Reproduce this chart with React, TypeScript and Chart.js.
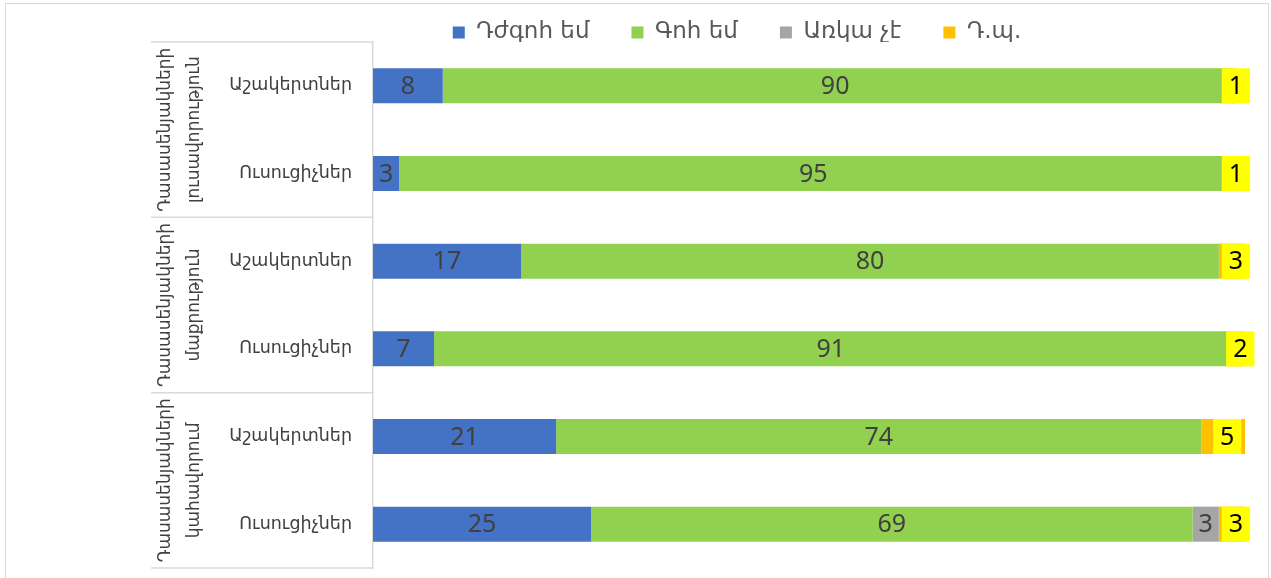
import React, { useEffect, useRef } from "react";
import { Chart, registerables } from "chart.js";

Chart.register(...registerables);

// ---- data ----
const categories = ["Աշակերտներ", "Ուսուցիչներ", "Աշակերտներ", "Ուսուցիչներ", "Աշակերտներ", "Ուսուցիչներ"];
const groupLine1 = ["Դասասենյակների", "Դասասենյակների", "Դասասենյակների"];
const groupLine2 = ["լուսավորություն", "մաքրություն", "կահավորում"];
const groupSizes = [2, 2, 2];

const seriesNames = ["Դժգոհ եմ", "Գոհ եմ", "Առկա չէ", "Դ.պ."];
const dissatisfied = [8, 3, 17, 7, 21, 25];
const satisfied = [90, 95, 80, 91, 74, 69];
const notAvailable = [0, 0, 0, 0, 0, 3];
const noAnswer = [1, 1, 3, 2, 5, 3];
const seriesColors = ["#4472C4", "#92D050", "#A5A5A5", "#FFC000"];

const ARM = '"DejaVu Sans", sans-serif';
const NUM = '"Noto Sans", "DejaVu Sans", sans-serif';

const decorPlugin = {
  id: "decor",
  beforeDraw(chart: any) {
    const { ctx, width, height } = chart;
    ctx.save();
    ctx.fillStyle = "#ffffff";
    ctx.fillRect(0, 0, width, height);
    ctx.strokeStyle = "#d9d9d9";
    ctx.lineWidth = 1;
    ctx.strokeRect(5.5, 3.5, width - 8, height + 10);
    ctx.restore();
  },
  afterDraw(chart: any) {
    const { ctx, chartArea } = chart;
    const yScale = chart.scales.y;
    const centers = categories.map((_, i) => yScale.getPixelForValue(i));
    const bounds: number[] = [chartArea.top];
    let idx = 0;
    groupSizes.forEach((n) => {
      idx += n;
      if (idx < categories.length) bounds.push((centers[idx - 1] + centers[idx]) / 2);
      else bounds.push(chartArea.bottom);
    });
    ctx.save();
    ctx.strokeStyle = "#d9d9d9";
    ctx.lineWidth = 1.5;
    bounds.forEach((b) => {
      ctx.beginPath();
      ctx.moveTo(151, b);
      ctx.lineTo(chartArea.left, b);
      ctx.stroke();
    });
    ctx.fillStyle = "#404040";
    ctx.font = `17px ${ARM}`;
    ctx.textAlign = "center";
    ctx.textBaseline = "middle";
    groupSizes.forEach((_, g) => {
      const mid = (bounds[g] + bounds[g + 1]) / 2;
      [[groupLine1[g], 166], [groupLine2[g], 195]].forEach(([t, x]) => {
        ctx.save();
        ctx.translate(x as number, mid);
        ctx.rotate(-Math.PI / 2);
        ctx.fillText(t as string, 0, 0);
        ctx.restore();
      });
    });
    ctx.restore();
  },
  afterDatasetsDraw(chart: any) {
    const { ctx } = chart;
    ctx.save();
    ctx.font = `25px ${NUM}`;
    ctx.textAlign = "center";
    ctx.textBaseline = "middle";
    chart.data.datasets.forEach((ds: any, di: number) => {
      const meta = chart.getDatasetMeta(di);
      meta.data.forEach((bar: any, i: number) => {
        const v = ds.data[i];
        if (!v) return;
        const p = bar.getProps(["x", "y", "base"], true);
        const cx = (p.x + p.base) / 2;
        const label = String(v);
        if (di === 3) {
          const tw = ctx.measureText(label).width;
          const w = tw + 14;
          ctx.fillStyle = "#FFFF00";
          ctx.fillRect(cx - w / 2 + 4, p.y - 17.5, w, 35);
          ctx.fillStyle = "#000000";
          ctx.fillText(label, cx + 4, p.y + 1);
        } else {
          ctx.fillStyle = "#404040";
          ctx.fillText(label, cx, p.y + 1);
        }
      });
    });
    ctx.restore();
  },
};

export default function App() {
  const ref = useRef<HTMLCanvasElement | null>(null);
  useEffect(() => {
    if (!ref.current) return;
    const series = [dissatisfied, satisfied, notAvailable, noAnswer];
    const chart = new Chart(ref.current, {
      type: "bar",
      data: {
        labels: categories,
        datasets: series.map((d, i) => ({
          label: seriesNames[i],
          data: d,
          backgroundColor: seriesColors[i],
          borderWidth: 0,
          barPercentage: 0.4,
          categoryPercentage: 1,
        })),
      },
      options: {
        indexAxis: "y",
        responsive: false,
        animation: false,
        layout: { padding: { left: 229, right: 26, top: -21, bottom: 10 } },
        plugins: {
          legend: {
            position: "top",
            maxHeight: 63,
            labels: {
              boxWidth: 12,
              boxHeight: 12,
              padding: 42,
              color: "#595959",
              font: { family: ARM, size: 23 },
            },
          },
          tooltip: { enabled: false },
        },
        scales: {
          x: {
            stacked: true,
            min: 0,
            max: 100,
            display: false,
          },
          y: {
            stacked: true,
            grid: { display: false, drawTicks: false },
            border: { display: true, color: "#d9d9d9", width: 1.5 },
            ticks: { color: "#404040", padding: 21, font: { family: ARM, size: 17.5 } },
            afterFit(scale: any) {
              scale.width = 144;
              scale.paddingTop = 0;
              scale.paddingBottom = 0;
            },
          },
        },
      },
      plugins: [decorPlugin],
    } as any);
    return () => chart.destroy();
  }, []);
  return (
    <div style={{ position: "fixed", left: 0, top: 0, width: 1271, height: 578, background: "#fff" }}>
      <canvas ref={ref} width={1271} height={578} style={{ display: "block" }} />
    </div>
  );
}
